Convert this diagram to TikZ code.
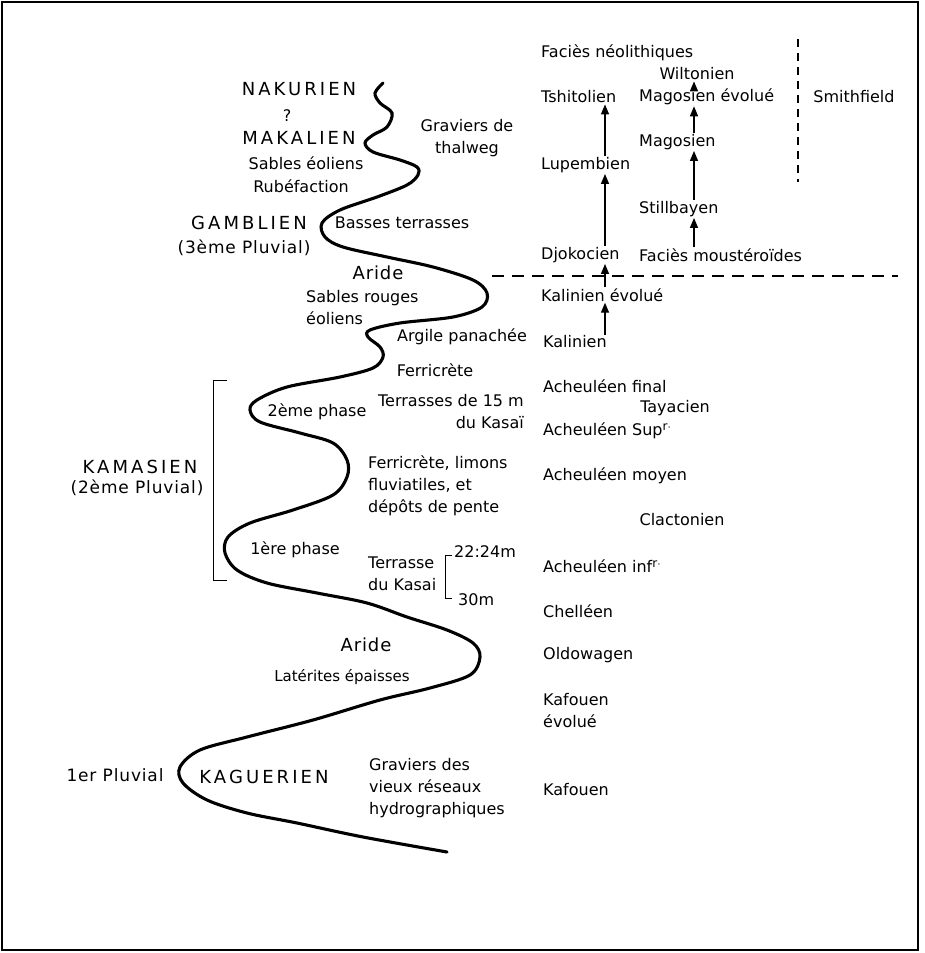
\documentclass[tikz,border=0pt]{standalone}
\usepackage{fontspec}
\setmainfont{DejaVu Sans}
\newfontfamily\capsfont{DejaVu Sans}[LetterSpace=17]
\newfontfamily\subfont{DejaVu Sans}[LetterSpace=5]
\usetikzlibrary{arrows.meta}
\newcommand{\supr}{\raisebox{0.55ex}{\fontsize{12}{12}\selectfont r$\cdot$}}

\tikzset{
  lbl/.style={inner sep=1pt, font=\fontsize{16}{22}\selectfont},
  stage/.style={inner sep=1pt, font=\capsfont\fontsize{18}{22}\selectfont},
  sub/.style={inner sep=1pt, font=\subfont\fontsize{17}{22}\selectfont},
  aride/.style={inner sep=1pt, font=\subfont\fontsize{18}{22}\selectfont},
  arr/.style={-{Triangle[length=10pt,width=8pt]}, line width=1.4pt},
}

\begin{document}
\begin{tikzpicture}[x=1pt,y=-1pt]
  \useasboundingbox (0,0) rectangle (924,953);
  \draw[line width=1.5pt] (2,2) rectangle (918,950);

  % Curve of the pluvials
  \draw[line width=3.1pt, line cap=round] plot[smooth, tension=0.55] coordinates {
    (383,83) (375,93) (380,103) (392,113) (387,127) (373,135) (365,143)
    (373,152) (400,160) (417,167) (418,175) (407,185) (377,197) (340,210)
    (322,223) (325,237) (343,247) (387,257) (433,267) (473,280) (487,293)
    (482,307) (453,317) (400,323) (370,330) (368,337) (380,347) (383,357)
    (373,368) (340,377) (287,387) (257,400) (250,410) (260,422) (300,433)
    (333,443) (347,460) (347,477) (333,495) (293,510) (250,523) (228,537)
    (225,553) (237,570) (267,583) (317,593) (367,603) (407,617) (447,630)
    (473,643) (480,657) (470,675) (430,688) (380,700) (313,720) (247,737)
    (200,750) (180,767) (183,783) (207,800) (247,813) (297,823) (363,837)
    (447,852)};

  % Left side: stages
  \node[stage] (nakurien) at (299,89) {NAKURIEN};
  \node[lbl] (qmark) at (287,116) {?};
  \node[stage] (makalien) at (299,138) {MAKALIEN};
  \node[lbl] (sables) at (306,163) {Sables éoliens};
  \node[lbl] (rubef) at (301,186) {Rubéfaction};
  \node[lbl, align=center] (thalweg) at (467,138) {Graviers de\\thalweg};
  \node[stage] (gamblien) at (249,223) {GAMBLIEN};
  \node[sub] (pluv3) at (244,248) {(3ème Pluvial)};
  \node[lbl] (basses) at (402,223) {Basses terrasses};
  \node[aride] (aride1) at (378,273) {Aride};
  \node[lbl, align=left, anchor=west] (sablesr) at (305,307.5) {Sables rouges\\éoliens};
  \node[lbl] (argile) at (462,337) {Argile panachée};
  \node[lbl] (ferri1) at (435,370) {Ferricrète};
  \node[lbl, align=right, anchor=east] (terr15) at (525,411.5) {Terrasses de 15 m\\du Kasaï};
  \node[lbl] (phase2) at (317,412) {2ème phase};
  \node[lbl, align=left, anchor=west] (ferri2) at (367,486) {Ferricrète, limons\\fluviatiles, et\\dépôts de pente};
  \node[lbl] (phase1) at (295,550) {1ère phase};
  \node[lbl, align=left, anchor=west] (kasai) at (367,574) {Terrasse\\du Kasai};
  \node[lbl, anchor=west] (m22) at (453,552) {22:24m};
  \node[lbl, anchor=west] (m30) at (457,600) {30m};
  \draw[line width=1pt] (452,555) -- (445,555) -- (445,598) -- (452,598);

  \node[stage] (kamasien) at (140,467) {KAMASIEN};
  \node[sub] (pluv2) at (137,488) {(2ème Pluvial)};
  \draw[line width=1pt] (227,380) -- (213,380) -- (213,580) -- (227,580);

  \node[aride] (aride2) at (366,645) {Aride};
  \node[lbl, font=\fontsize{15}{22}\selectfont] (laterites) at (342,677) {Latérites épaisses};
  \node[sub] (pluv1) at (115,775) {1er Pluvial};
  \node[stage] (kaguerien) at (264,777) {KAGUERIEN};
  \node[lbl, align=left, anchor=west] (graviers) at (368,788) {Graviers des\\vieux réseaux\\hydrographiques};

  % Right side: industries
  \node[lbl, anchor=west] (neo) at (540,53) {Faciès néolithiques};
  \node[lbl, anchor=west] (tshitolien) at (540,97) {Tshitolien};
  \node[lbl, anchor=west] (lupembien) at (540,165) {Lupembien};
  \node[lbl, anchor=west] (djokocien) at (540,255) {Djokocien};
  \node[lbl, anchor=west] (kalevol) at (540,295) {Kalinien évolué};
  \node[lbl, anchor=west] (kalinien) at (542,342) {Kalinien};
  \node[lbl, anchor=west] (achfinal) at (542,386) {Acheuléen final};
  \node[lbl, anchor=west] (achsup) at (542,431) {Acheuléen Sup\supr};
  \node[lbl, anchor=west] (achmoy) at (542,476) {Acheuléen moyen};
  \node[lbl, anchor=west] (achinf) at (542,566) {Acheuléen inf\supr};
  \node[lbl, anchor=west] (chelleen) at (542,611) {Chelléen};
  \node[lbl, anchor=west] (oldowagen) at (542,655) {Oldowagen};
  \node[lbl, anchor=west, align=left] (kafevol) at (542,711) {Kafouen\\évolué};
  \node[lbl, anchor=west] (kafouen) at (542,790) {Kafouen};

  \node[lbl] (wiltonien) at (697,74) {Wiltonien};
  \node[lbl, anchor=west] (magevol) at (638,97) {Magosien évolué};
  \node[lbl, anchor=west] (magosien) at (638,142) {Magosien};
  \node[lbl, anchor=west] (stillbayen) at (638,209) {Stillbayen};
  \node[lbl, anchor=west] (moust) at (638,255) {Faciès moustéroïdes};
  \node[lbl] (tayacien) at (675,408) {Tayacien};
  \node[lbl] (clactonien) at (682,520) {Clactonien};
  \node[lbl] (smithfield) at (854,97) {Smithfield};

  % Dashed limits
  \draw[line width=1.5pt, dash pattern=on 12pt off 8pt] (492,276) -- (898,276);
  \draw[line width=1.5pt, dash pattern=on 8pt off 6pt] (798,39) -- (798,182);

  % Arrows
  \coordinate (colA) at (605,0);
  \coordinate (colB) at (694,0);
  \draw[arr] (kalinien.north -| colA) -- (kalevol.south -| colA);
  \draw[arr] (kalevol.north -| colA) -- (djokocien.south -| colA);
  \draw[arr] (djokocien.north -| colA) -- (lupembien.south -| colA);
  \draw[arr] (lupembien.north -| colA) -- (tshitolien.south -| colA);
  \draw[arr] (moust.north -| colB) -- (stillbayen.south -| colB);
  \draw[arr] (stillbayen.north -| colB) -- (magosien.south -| colB);
  \draw[arr] (magosien.north -| colB) -- (magevol.south -| colB);
  \draw[arr] (magevol.north -| colB) -- (wiltonien.south -| colB);
\end{tikzpicture}
\end{document}
